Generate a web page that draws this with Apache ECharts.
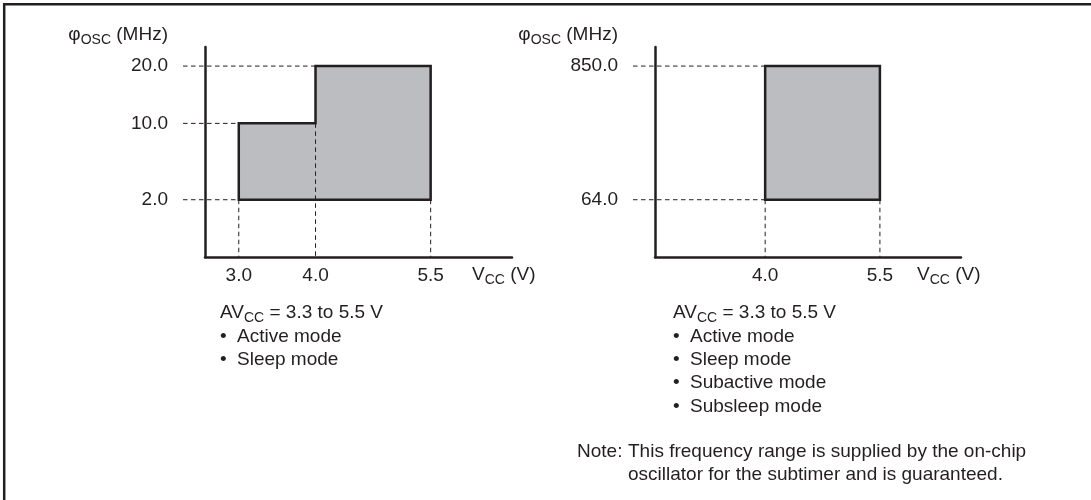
<!DOCTYPE html>
<html>
<head>
<meta charset="utf-8">
<script src="https://cdn.jsdelivr.net/npm/echarts@6/dist/echarts.min.js"></script>
<style>
  html, body { margin: 0; padding: 0; background: #fff; }
  #main { width: 1091px; height: 500px; }
</style>
</head>
<body>
<div id="main"></div>
<script>
// schematic frequency axis: one slot per entry, bottom to top
const leftFreqTicks = ['', '', '', '2.0', '', '', '', '10.0', '', '', '20.0', ''];
const rightFreqTicks = ['', '', '', '64.0', '', '', '', '', '', '', '850.0', ''];
const leftVccTicks = [3.0, 4.0, 5.5];
const rightVccTicks = [4.0, 5.5];
const vccMin = 2.56;
const vccMax = 6.56;

// operating range outlines (Vcc [V], fosc tick)
const leftRangeVcc = [3.0, 3.0, 4.0, 4.0, 5.5, 5.5];
const leftRangeFreq = ['2.0', '10.0', '10.0', '20.0', '20.0', '2.0'];
const rightRangeVcc = [4.0, 4.0, 5.5, 5.5];
const rightRangeFreq = ['64.0', '850.0', '850.0', '64.0'];

const leftModes = ['Active mode', 'Sleep mode'];
const rightModes = ['Active mode', 'Sleep mode', 'Subactive mode', 'Subsleep mode'];
const noteLines = [
  'This frequency range is supplied by the on-chip',
  'oscillator for the subtimer and is guaranteed.'
];

const INK = '#231f20';
const FILL = '#bcbdc1';
const FONT = '"Liberation Sans", Arial, Helvetica, sans-serif';
const FS = 19;

const chart = echarts.init(document.getElementById('main'));

const nameRich = {
  n: { color: INK, fontFamily: FONT, fontSize: FS, lineHeight: 24 },
  s: { color: INK, fontFamily: FONT, fontSize: 14, lineHeight: 15, verticalAlign: 'bottom' }
};

function xAxisFor(idx, ticks, gap) {
  return {
    type: 'value', gridIndex: idx, min: vccMin, max: vccMax,
    name: '{n|V}{s|CC}{n| (V)}', nameLocation: 'end', nameGap: gap,
    nameTextStyle: {
      align: 'left', verticalAlign: 'middle', padding: [36, 0, 0, 0],
      color: INK, fontFamily: FONT, fontSize: FS, lineHeight: 24, rich: nameRich
    },
    axisLine: { show: true, onZero: false, lineStyle: { color: INK, width: 2.5 } },
    axisTick: { show: false },
    axisLabel: {
      customValues: ticks, formatter: v => v.toFixed(1), margin: 9,
      color: INK, fontFamily: FONT, fontSize: FS
    },
    splitLine: { show: false }
  };
}

function yAxisFor(idx, ticks) {
  return {
    type: 'category', gridIndex: idx, data: ticks, boundaryGap: false,
    name: '{n|φ}{s|OSC}{n| (MHz)}', nameLocation: 'end', nameGap: 12,
    nameTextStyle: {
      align: 'right', verticalAlign: 'middle', padding: [0, 37, 0, 0],
      color: INK, fontFamily: FONT, fontSize: FS, lineHeight: 24, rich: nameRich
    },
    axisLine: { show: true, onZero: false, lineStyle: { color: INK, width: 2.5 } },
    axisTick: { show: false },
    axisLabel: { interval: 0, margin: 37, color: INK, fontFamily: FONT, fontSize: FS },
    splitLine: { show: false }
  };
}

// shaded range + dashed guide lines, positioned through the axes
function rangeSeries(idx, vcc, freq, ticks) {
  const slots = freq.map(f => ticks.indexOf(f));
  return {
    type: 'custom', xAxisIndex: idx, yAxisIndex: idx,
    data: [[vcc[0], slots[0]]],
    renderItem: function (params, api) {
      const cs = params.coordSys;
      const pts = vcc.map((v, i) => api.coord([v, slots[i]]));
      const axisBottom = cs.y + cs.height;
      const dash = { stroke: INK, lineWidth: 1, lineDash: [4.5, 3.5] };
      const guides = [];
      // horizontal leaders: from left of the y axis to the first corner at that level
      [...new Set(slots)].forEach(s => {
        const xs = pts.filter((p, i) => slots[i] === s).map(p => p[0]);
        const y = api.coord([vcc[0], s])[1];
        guides.push({ type: 'line', shape: { x1: cs.x - 22, y1: y, x2: Math.min(...xs), y2: y }, style: dash });
      });
      // vertical drops: from the lowest corner at that voltage to the x axis
      [...new Set(vcc)].forEach(v => {
        const ys = pts.filter((p, i) => vcc[i] === v).map(p => p[1]);
        const x = api.coord([v, 0])[0];
        guides.push({ type: 'line', shape: { x1: x, y1: Math.max(...ys), x2: x, y2: axisBottom }, style: dash });
      });
      return {
        type: 'group',
        children: [
          { type: 'polygon', shape: { points: pts }, style: { fill: FILL } },
          ...guides,
          { type: 'polygon', shape: { points: pts }, style: { fill: 'none', stroke: INK, lineWidth: 2.5, lineJoin: 'miter' } }
        ]
      };
    }
  };
}

const textRich = {
  s: { fill: INK, fontFamily: FONT, fontSize: 14, lineHeight: 15, verticalAlign: 'bottom' },
  b: { fill: INK, fontFamily: FONT, fontSize: FS, width: 17 }
};
function textLine(x, y, text) {
  return {
    type: 'text', x: x, y: y, silent: true,
    style: {
      text: text, fill: INK, fontFamily: FONT, fontSize: FS, lineHeight: 24,
      verticalAlign: 'middle', align: 'left', rich: textRich
    }
  };
}

const graphics = [
  { type: 'rect', silent: true, shape: { x: 4.2, y: 4.2, width: 1200, height: 600 },
    style: { fill: 'none', stroke: INK, lineWidth: 2.5 } }
];
const lineStep = 23.4;
graphics.push(textLine(220, 313, 'AV{s|CC} = 3.3 to 5.5 V'));
leftModes.forEach((m, i) => graphics.push(textLine(220, 313 + lineStep * (i + 1), '{b|•}' + m)));
graphics.push(textLine(673, 313, 'AV{s|CC} = 3.3 to 5.5 V'));
rightModes.forEach((m, i) => graphics.push(textLine(673, 313 + lineStep * (i + 1), '{b|•}' + m)));
graphics.push(textLine(577, 451.7, 'Note:'));
noteLines.forEach((t, i) => graphics.push(textLine(628, 451.7 + lineStep * i, t)));

const option = {
  animation: false,
  backgroundColor: '#fff',
  grid: [
    { left: 205, top: 47, width: 307, height: 210, outerBoundsMode: 'none' },
    { left: 655, top: 47, width: 306, height: 210, outerBoundsMode: 'none' }
  ],
  xAxis: [xAxisFor(0, leftVccTicks, -40), xAxisFor(1, rightVccTicks, -44)],
  yAxis: [yAxisFor(0, leftFreqTicks), yAxisFor(1, rightFreqTicks)],
  series: [
    rangeSeries(0, leftRangeVcc, leftRangeFreq, leftFreqTicks),
    rangeSeries(1, rightRangeVcc, rightRangeFreq, rightFreqTicks)
  ],
  graphic: graphics
};
chart.setOption(option);
</script>
</body>
</html>
